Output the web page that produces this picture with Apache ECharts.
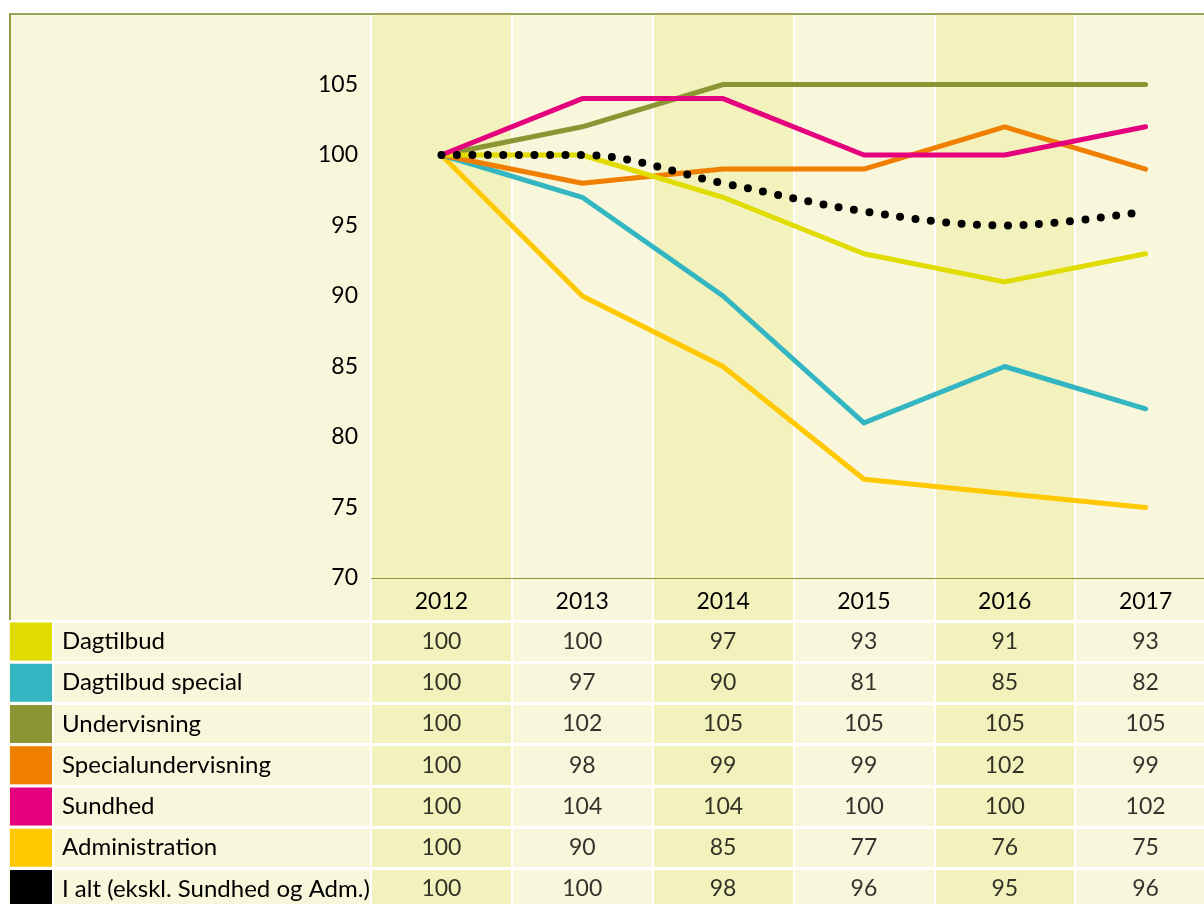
<!DOCTYPE html>
<html>
<head>
<meta charset="utf-8">
<script src="https://cdn.jsdelivr.net/npm/echarts@6/dist/echarts.min.js"></script>
<style>
  html, body { margin: 0; padding: 0; background: #fff; }
  #chart { width: 1204px; height: 904px; }
</style>
</head>
<body>
<div id="chart"></div>
<script>
// data
const years = ['2012', '2013', '2014', '2015', '2016', '2017'];
const rowNames = ['Dagtilbud', 'Dagtilbud special', 'Undervisning', 'Specialundervisning',
  'Sundhed', 'Administration', 'I alt (ekskl. Sundhed og Adm.)'];
const dagtilbud = [100, 100, 97, 93, 91, 93];
const dagtilbudSpecial = [100, 97, 90, 81, 85, 82];
const undervisning = [100, 102, 105, 105, 105, 105];
const specialundervisning = [100, 98, 99, 99, 102, 99];
const sundhed = [100, 104, 104, 100, 100, 102];
const administration = [100, 90, 85, 77, 76, 75];
const iAlt = [100, 100, 98, 96, 95, 96];

const rowValues = [dagtilbud, dagtilbudSpecial, undervisning, specialundervisning,
  sundhed, administration, iAlt];
const rowColors = ['#e1dc00', '#33b6c1', '#8a9633', '#f07f00', '#e5007d', '#ffc800', '#000000'];
// drawing order of the lines (higher on top)
const rowZ = [9, 6, 8, 7, 10, 5, 11];

const FONT = 'Lato';
const TEXT = '#000';
const OLIVE = '#8a9637';
const BAND_DARK = '#f3f2bd';
const BAND_LIGHT = '#f8f7dc';

const chart = echarts.init(document.getElementById('chart'), null, { renderer: 'canvas' });

const lineSeries = rowNames.map((name, i) => {
  const s = {
    name: name,
    type: 'line',
    xAxisIndex: 0,
    yAxisIndex: 0,
    data: rowValues[i],
    symbol: 'none',
    z: rowZ[i],
    lineStyle: { color: rowColors[i], width: 5, cap: 'round', join: 'round' },
  };
  if (i === 6) {
    s.smooth = 0.35;
    s.lineStyle = { color: '#000', width: 8, type: [0, 15.5], cap: 'round' };
  }
  return s;
});

const tableSeries = rowNames.map((name, i) => ({
  type: 'scatter',
  xAxisIndex: 1,
  yAxisIndex: 1,
  symbolSize: 0,
  itemStyle: { color: TEXT },
  silent: true,
  z: 20,
  data: years.map((y, j) => [y, name, rowValues[i][j]]),
  label: {
    show: true,
    position: 'inside',
    formatter: p => p.value[2],
    fontFamily: FONT,
    fontSize: 23,
    color: TEXT,
    textBorderWidth: 0,
  },
}));

const rich = {
  g: { width: 2, height: 38, backgroundColor: '#ffffff' },
  t: { fontFamily: FONT, fontSize: 24, color: TEXT, padding: [0, 0, 0, 8] },
};
rowColors.forEach((c, i) => {
  rich['s' + i] = { width: 42, height: 38, backgroundColor: c };
});

const option = {
  backgroundColor: BAND_LIGHT,
  animation: false,
  grid: [
    { left: 371, top: 14, width: 845, height: 564, outerBoundsMode: 'none' },
    { left: 371, top: 579.5, width: 845, height: 8 * 41.25, outerBoundsMode: 'none' },
    { left: 10, top: 620.75, width: 361, height: 7 * 41.25, outerBoundsMode: 'none' },
  ],
  xAxis: [
    {
      type: 'category', gridIndex: 0, data: years, z: 2,
      axisLine: { show: false }, axisTick: { show: false },
      axisLabel: { fontFamily: FONT, fontSize: 23, color: TEXT, margin: 12 },
      splitLine: { show: true, lineStyle: { color: '#ffffff', width: 2 } },
      splitArea: { show: true, areaStyle: { color: [BAND_DARK, BAND_LIGHT] } },
    },
    {
      type: 'category', gridIndex: 1, data: years, z: 0,
      axisLine: { show: false }, axisTick: { show: false }, axisLabel: { show: false },
      splitLine: { show: true, lineStyle: { color: '#ffffff', width: 2 } },
      splitArea: { show: true, areaStyle: { color: [BAND_DARK, BAND_LIGHT] } },
    },
    { type: 'value', gridIndex: 2, show: false, min: 0, max: 1 },
  ],
  yAxis: [
    {
      type: 'value', gridIndex: 0, min: 70, max: 110, interval: 5, z: 1,
      axisLine: { show: false }, axisTick: { show: false },
      axisLabel: {
        fontFamily: FONT, fontSize: 23, color: TEXT, margin: 13,
        formatter: v => (v === 110 ? '' : v),
      },
      splitLine: { show: true, lineStyle: { color: OLIVE, width: 2 } },
    },
    {
      type: 'category', gridIndex: 1, inverse: true, data: [''].concat(rowNames), z: 1,
      axisLine: { show: false }, axisTick: { show: false }, axisLabel: { show: false },
      splitLine: {
        show: true, interval: (idx) => idx !== 0,
        lineStyle: { color: '#ffffff', width: 3 },
      },
    },
    {
      type: 'category', gridIndex: 2, inverse: true, data: rowNames,
      axisLine: { show: false }, axisTick: { show: false },
      axisLabel: {
        inside: true, margin: 0, align: 'left',
        formatter: (name, idx) => '{s' + idx + '|}{g|}{t|' + name + '}',
        rich: rich,
      },
      splitLine: { show: true, lineStyle: { color: '#ffffff', width: 3 } },
    },
  ],
  graphic: [
    { type: 'rect', z: 100, shape: { x: 0, y: 0, width: 1204, height: 13 }, style: { fill: '#fff' } },
    { type: 'rect', z: 100, shape: { x: 0, y: 0, width: 9, height: 904 }, style: { fill: '#fff' } },
    { type: 'line', z: 101, shape: { x1: 9, y1: 14, x2: 1204, y2: 14 }, style: { stroke: '#9ea55a', lineWidth: 2 } },
    { type: 'line', z: 101, shape: { x1: 10, y1: 14, x2: 10, y2: 620 }, style: { stroke: '#8f9a45', lineWidth: 2 } },
  ],
  series: lineSeries.concat(tableSeries),
};

chart.setOption(option);
</script>
</body>
</html>
